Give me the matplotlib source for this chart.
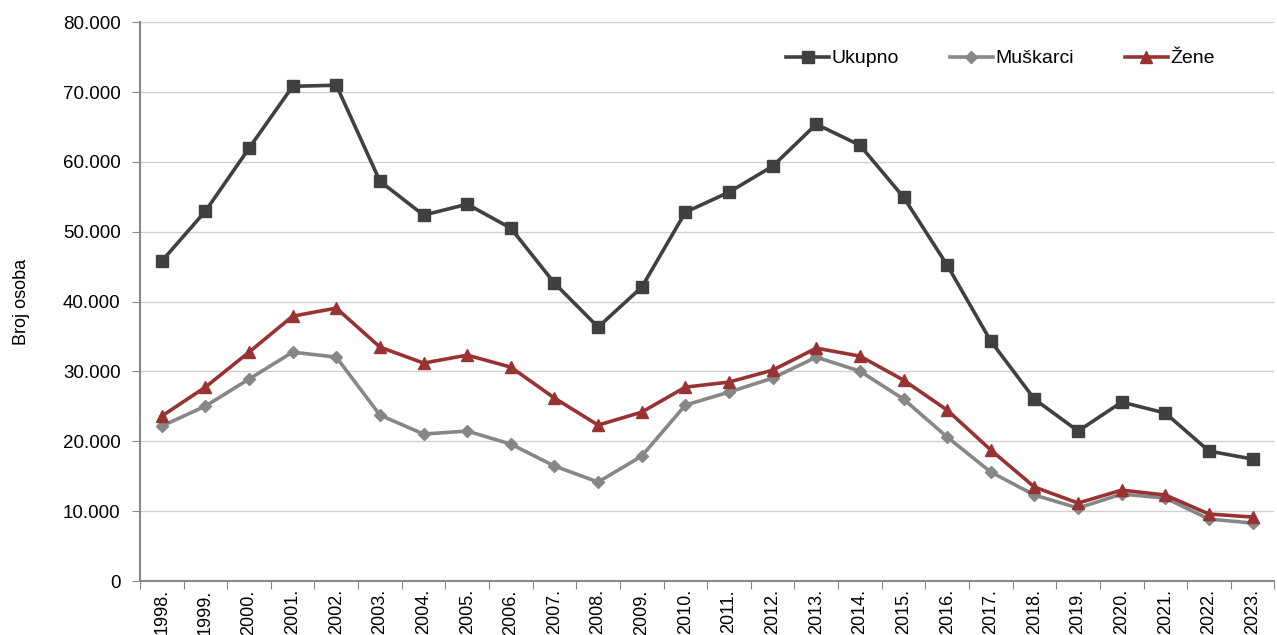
import matplotlib
matplotlib.use("Agg")
import matplotlib.pyplot as plt
from matplotlib.ticker import FuncFormatter, FixedLocator
import numpy as np

years = [f"{y}." for y in range(1998, 2024)]
ukupno = [45800, 52950, 61960, 70830, 70980, 57240, 52380, 53950, 50510, 42640,
          36350, 42070, 52800, 55670, 59390, 65400, 62390, 54950, 45220, 34340,
          26040, 21470, 25620, 24040, 18600, 17460]
muskarci = [22180, 25040, 28910, 32770, 32050, 23750, 21040, 21470, 19600, 16460,
            14170, 17890, 25190, 27050, 29050, 32050, 30050, 26040, 20610, 15600,
            12310, 10450, 12450, 11880, 8870, 8300]
zene = [23610, 27760, 32770, 37920, 39070, 33490, 31200, 32340, 30620, 26190,
        22320, 24180, 27760, 28480, 30190, 33340, 32200, 28760, 24470, 18750,
        13450, 11160, 13020, 12310, 9590, 9160]

plt.rcParams['font.family'] = ['Liberation Sans', 'DejaVu Sans']

fig = plt.figure(figsize=(12.77, 6.35), dpi=100)
ax = fig.add_axes([0.1096, 0.085, 0.8884, 0.880])

x = np.arange(len(years))
ax.plot(x, ukupno, color='#404040', lw=2.6, marker='s', ms=8.5, label='Ukupno', zorder=3)
ax.plot(x, muskarci, color='#878787', lw=2.6, marker='D', ms=6, label='Muškarci', zorder=3)
ax.plot(x, zene, color='#993333', lw=2.6, marker='^', ms=9, label='Žene', zorder=4)

ax.set_xlim(-0.5, len(years) - 0.5)
ax.set_ylim(0, 80000)
ax.yaxis.set_major_locator(FixedLocator(np.arange(0, 80001, 10000)))
ax.yaxis.set_major_formatter(FuncFormatter(lambda v, p: "0" if v == 0 else f"{int(v):,}".replace(",", ".")))
ax.grid(axis='y', color='#d0d0d0', lw=1)
ax.set_axisbelow(True)

ax.set_xticks(np.arange(-0.5, len(years), 1.0))
ax.set_xticklabels([])
ax.set_xticks(x, minor=True)
ax.set_xticklabels(years, minor=True, rotation=90, fontsize=13)
ax.tick_params(axis='x', which='minor', length=0, pad=6)
ax.tick_params(axis='x', which='major', length=6, color='#888888', direction='out')
ax.tick_params(axis='y', length=6, color='#888888', labelsize=13.5, pad=8)

for s in ['top', 'right']:
    ax.spines[s].set_visible(False)
for s in ['left', 'bottom']:
    ax.spines[s].set_color('#888888')
    ax.spines[s].set_linewidth(1.5)

ax.set_ylabel('Broj osoba', fontsize=13)
ax.yaxis.set_label_coords(-0.097, 0.5)

ax.legend(loc='center right', bbox_to_anchor=(0.963, 0.935), ncol=3, frameon=False,
          fontsize=14, handlelength=2.2, columnspacing=2.6, handletextpad=0.15)

fig.savefig('out.png', dpi=100)
